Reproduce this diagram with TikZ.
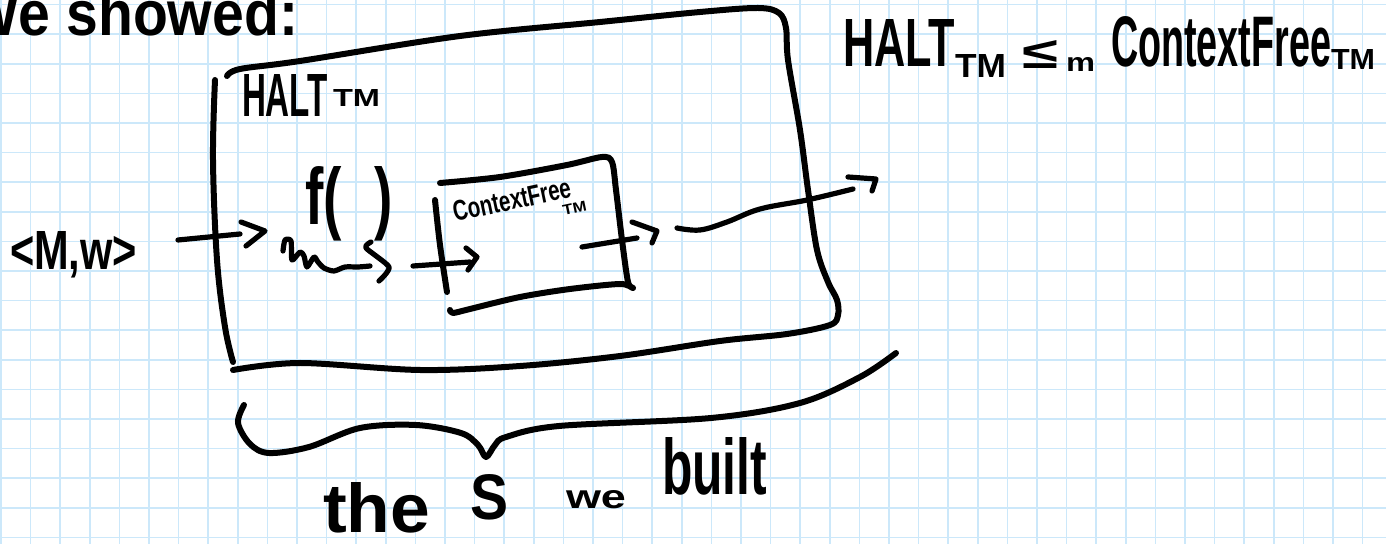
\documentclass[tikz,border=0pt]{standalone}
\usepackage{fontspec}
\setmainfont{Liberation Sans}
\newlength{\pxu}\setlength{\pxu}{0.5pt}
\definecolor{gridblue}{RGB}{204,232,250}
\begin{document}
\begin{tikzpicture}[x=0.5pt,y=-0.5pt,
  ink/.style={line width=3pt, line cap=round, line join=round, black},
  pen/.style={line width=2.6pt, line cap=round, line join=round, black},
  gridline/.style={gridblue, line width=0.8pt},
  hand/.style={inner sep=0pt, outer sep=0pt, anchor=base west, font=\bfseries}]
\clip (0,0) rectangle (1386,544);
\fill[white] (0,0) rectangle (1386,544);
% graph paper
\foreach \i in {0,...,46} \draw[gridline] (1+29.6*\i,0) -- (1+29.6*\i,544);
\foreach \j in {0,...,18} \draw[gridline] (0,4.7+29.6*\j) -- (1386,4.7+29.6*\j);

% texts
\node[hand] (weshowed) at (-34,36) {\resizebox{332\pxu}{46\pxu}{We showed:}};
\node[hand] (halt) at (242,117) {\resizebox{86\pxu}{42\pxu}{HALT}\hspace{5\pxu}\raisebox{10\pxu}{\resizebox{47\pxu}{17\pxu}{TM}}};
\node[hand] (input) at (10,270) {\resizebox{127\pxu}{38\pxu}{<M,w>}};
\node[hand] (f) at (305,225) {\resizebox{88\pxu}{58\pxu}{f(\hspace{0.6em})}};
\node[hand, rotate=12] (cf) at (455,222) {\resizebox{120\pxu}{20\pxu}{ContextFree}\hspace{-12\pxu}\raisebox{-16\pxu}{\resizebox{24\pxu}{10\pxu}{TM}}};
\node[hand] (reduction) at (843,67) {\resizebox{112\pxu}{47\pxu}{HALT}\raisebox{-11\pxu}{\resizebox{51\pxu}{23\pxu}{TM}}\hspace{16\pxu}\raisebox{-2\pxu}{\resizebox*{36\pxu}{28\pxu}{≤}}\hspace{8\pxu}\raisebox{-5\pxu}{\resizebox{29\pxu}{14\pxu}{m}}\hspace{16\pxu}\resizebox{220\pxu}{50\pxu}{ContextFree}\raisebox{-3\pxu}{\resizebox{44\pxu}{20\pxu}{TM}}};
\node[hand] (caption) at (323,533) {\resizebox{107\pxu}{50\pxu}{the}\hspace{40\pxu}\raisebox{13\pxu}{\resizebox{38\pxu}{45\pxu}{S}}\hspace{58\pxu}\raisebox{25\pxu}{\resizebox{60\pxu}{18\pxu}{we}}\hspace{36\pxu}\raisebox{38\pxu}{\resizebox{105\pxu}{57\pxu}{built}}};

% outer box (HALT_TM)
\draw[ink] plot[smooth, tension=0.6] coordinates {(215,80) (213,160) (217,260) (225,327) (233,362)};
\draw[ink] plot[smooth, tension=0.55] coordinates {(227,76) (240,69) (300,61) (460,36) (600,22) (700,12) (758,8) (779,13) (786,28) (788,60) (800,130) (808,190) (817,250) (828,282) (837,300) (838,315) (830,325) (787,334) (720,341) (620,356) (520,366) (420,370) (300,363) (233,370)};

% inner box (ContextFree_TM)
\draw[ink] plot[smooth, tension=0.6] coordinates {(435,200) (440,245) (447,292)};
\draw[ink] plot[smooth, tension=0.5] coordinates {(440,183) (500,177) (567,165) (602,157) (612,162) (616,190) (622,240) (628,282) (633,288) (620,284) (570,289) (520,297) (470,309) (453,313) (450,310)};

% input arrow
\coordinate (inA) at (178,240);
\coordinate (inB) at (240,234);
\draw[pen] (inA) -- (inB);
\draw[pen] (241,222) -- (265,231) -- (246,246);

% squiggle f( ) arrow
\coordinate (sqA) at (283,251);
\coordinate (sqB) at (370,266);
\draw[pen] plot[smooth, tension=0.45] coordinates {(sqA) (285,240) (291,241) (292,260) (300,252) (304,256) (307,267) (314,257) (318,262) (324,268) (334,271) (345,267) (358,267) (sqB)};
\draw[pen] plot[smooth, tension=0.4] coordinates {(371,242) (366,248) (389,267) (379,281)};

% arrow into ContextFree box
\coordinate (icA) at (413,266);
\coordinate (icB) at (470,262);
\draw[pen] (icA) -- (icB);
\draw[pen] (466,248) -- (477,257) -- (468,270);

% arrow out of ContextFree box
\coordinate (ocA) at (582,247);
\coordinate (ocB) at (637,238);
\draw[pen] (ocA) -- (ocB);
\draw[pen] (632,222) -- (657,231) -- (652,243);

% long output arrow
\coordinate (outA) at (677,228);
\coordinate (outB) at (853,189);
\draw[pen] plot[smooth, tension=0.6] coordinates {(outA) (700,230) (727,222) (760,209) (807,200) (outB)};
\draw[pen] (848,177) -- (876,179) -- (872,191);

% brace
\draw[ink] plot[smooth, tension=0.55] coordinates {(244,405) (238,423) (250,444) (269,453) (309,447) (360,428) (416,425) (461,433) (478,445) (486,457) (495,445) (506,437) (559,426) (711,418) (800,403) (860,377) (896,353)};
\end{tikzpicture}
\end{document}
